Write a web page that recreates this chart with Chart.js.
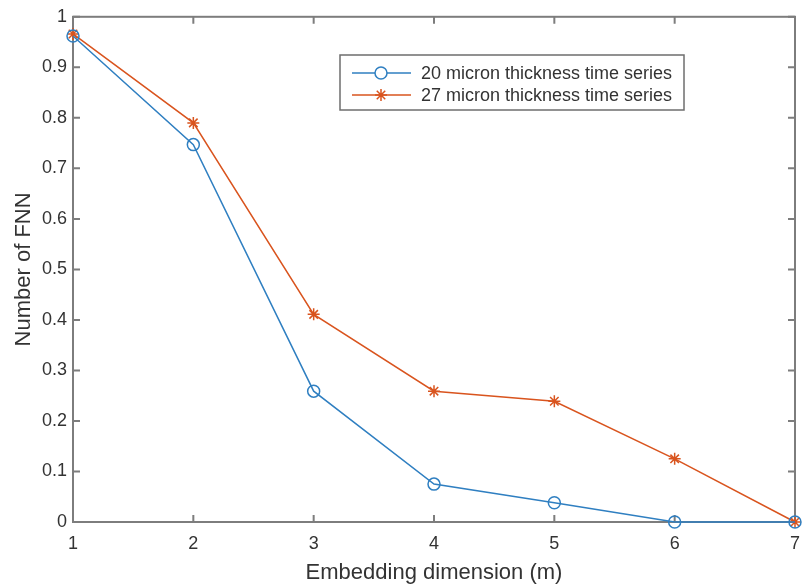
<!DOCTYPE html>
<html>
<head>
<meta charset="utf-8">
<script src="https://cdn.jsdelivr.net/npm/chart.js@4"></script>
<style>
  html, body { margin: 0; padding: 0; background: #fff; }
  #wrap { width: 803px; height: 586px; }
</style>
</head>
<body>
<div id="wrap"><canvas id="fnnChart" width="803" height="586"></canvas></div>
<script>
// Embedding dimension (m) on the x axis
var dims = [1, 2, 3, 4, 5, 6, 7];
// Fraction of false nearest neighbours for each time series
var fnn20 = [0.962, 0.747, 0.259, 0.075, 0.038, 0.0, 0.0];
var fnn27 = [0.966, 0.790, 0.411, 0.259, 0.239, 0.125, 0.0];
var seriesNames = ["20 micron thickness time series", "27 micron thickness time series"];
var yTicks = [0, 0.1, 0.2, 0.3, 0.4, 0.5, 0.6, 0.7, 0.8, 0.9, 1];
var xTicks = [1, 2, 3, 4, 5, 6, 7];

var blue = "#2f7fc1";
var orange = "#d9541e";
var axisColor = "#7d7d7d";
var textColor = "#333333";
var fontFamily = "'Liberation Sans', Arial, Helvetica, sans-serif";

function toPoints(ys) {
    return dims.map(function (d, i) { return { x: d, y: ys[i] }; });
}

// Box round the plot area with MATLAB-style inward ticks on all four sides
var boxPlugin = {
    id: "boxTicks",
    beforeDatasetsDraw: function (chart) {
        var ctx = chart.ctx;
        var a = chart.chartArea;
        var xs = chart.scales.x;
        var ys = chart.scales.y;
        var len = 7;
        ctx.save();
        ctx.strokeStyle = axisColor;
        ctx.lineWidth = 2;
        ctx.strokeRect(a.left, a.top, a.right - a.left, a.bottom - a.top);
        ctx.beginPath();
        xTicks.forEach(function (t) {
            var px = xs.getPixelForValue(t);
            ctx.moveTo(px, a.bottom); ctx.lineTo(px, a.bottom - len);
            ctx.moveTo(px, a.top); ctx.lineTo(px, a.top + len);
        });
        yTicks.forEach(function (t) {
            var py = ys.getPixelForValue(t);
            ctx.moveTo(a.left, py); ctx.lineTo(a.left + len, py);
            ctx.moveTo(a.right, py); ctx.lineTo(a.right - len, py);
        });
        ctx.stroke();
        ctx.restore();
    }
};

// Legend drawn inside the axes, like the original figure
var legendPlugin = {
    id: "insideLegend",
    afterDatasetsDraw: function (chart) {
        var ctx = chart.ctx;
        var x0 = 340, y0 = 55, w = 344, h = 55;
        ctx.save();
        ctx.fillStyle = "#fff";
        ctx.fillRect(x0, y0, w, h);
        ctx.strokeStyle = "#6e6e6e";
        ctx.lineWidth = 1.5;
        ctx.strokeRect(x0, y0, w, h);
        ctx.font = "18px " + fontFamily;
        ctx.textBaseline = "middle";
        chart.data.datasets.forEach(function (ds, i) {
            var ry = y0 + 18 + i * 22;
            ctx.strokeStyle = ds.borderColor;
            ctx.lineWidth = 1.5;
            ctx.beginPath();
            ctx.moveTo(352, ry); ctx.lineTo(411, ry);
            ctx.stroke();
            Chart.helpers.drawPoint(ctx, {
                pointStyle: ds.pointStyle,
                radius: ds.pointRadius,
                borderWidth: 1.5
            }, 381, ry);
            ctx.fillStyle = textColor;
            ctx.fillText(ds.label, 421, ry + 1);
        });
        ctx.restore();
    }
};

var ctx = document.getElementById("fnnChart").getContext("2d");

var fnnChart = new Chart(ctx, {
    type: "line",
    data: {
        datasets: [
            {
                label: seriesNames[0],
                data: toPoints(fnn20),
                borderColor: blue,
                backgroundColor: "rgba(0,0,0,0)",
                pointStyle: "circle",
                pointRadius: 6,
                pointBorderWidth: 1.5,
                borderWidth: 1.5,
                clip: false
            },
            {
                label: seriesNames[1],
                data: toPoints(fnn27),
                borderColor: orange,
                backgroundColor: orange,
                pointStyle: "star",
                pointRadius: 6,
                pointBorderWidth: 1.5,
                borderWidth: 1.5,
                clip: false
            }
        ]
    },
    options: {
        responsive: false,
        animation: false,
        layout: { padding: { top: 14, right: 8, left: 0, bottom: 0 } },
        plugins: {
            legend: { display: false },
            tooltip: { enabled: false }
        },
        scales: {
            x: {
                type: "linear",
                min: 1,
                max: 7,
                grid: { display: false, drawTicks: false },
                border: { display: false },
                afterBuildTicks: function (scale) {
                    scale.ticks = xTicks.map(function (v) { return { value: v }; });
                },
                afterFit: function (scale) {
                    scale.height = 64;
                    scale.paddingRight = 0;
                    scale.paddingLeft = 0;
                },
                ticks: {
                    color: textColor,
                    font: { family: fontFamily, size: 18 },
                    padding: 11,
                    maxRotation: 0
                },
                title: {
                    display: true,
                    text: "Embedding dimension (m)",
                    color: textColor,
                    font: { family: fontFamily, size: 22 },
                    padding: { top: 3, bottom: 0 }
                }
            },
            y: {
                type: "linear",
                min: 0,
                max: 1,
                grid: { display: false, drawTicks: false },
                border: { display: false },
                afterBuildTicks: function (scale) {
                    scale.ticks = yTicks.map(function (v) { return { value: v }; });
                },
                afterFit: function (scale) { scale.width = 73; },
                ticks: {
                    color: textColor,
                    font: { family: fontFamily, size: 18 },
                    padding: 6,
                    callback: function (v) { return String(Math.round(v * 10) / 10); }
                },
                title: {
                    display: true,
                    text: "Number of FNN",
                    color: textColor,
                    font: { family: fontFamily, size: 22 },
                    padding: { top: 11, bottom: 0 }
                }
            }
        }
    },
    plugins: [boxPlugin, legendPlugin]
});
</script>
</body>
</html>
